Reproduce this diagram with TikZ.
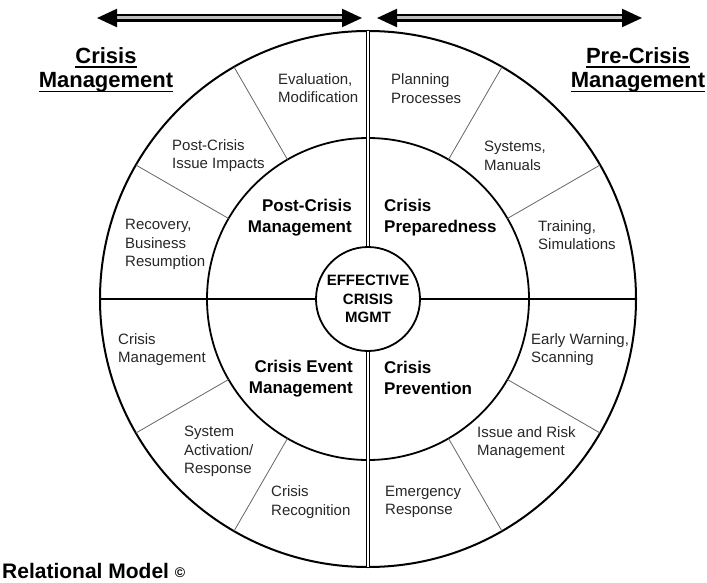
\documentclass[tikz,border=0pt]{standalone}
\usepackage{fontspec}
\setmainfont{Liberation Sans}
\usetikzlibrary{arrows.meta}
\newsavebox\ulbox
\newcommand\ulword[1]{\sbox\ulbox{#1}\rlap{\rule[-4.5pt]{\wd\ulbox}{1.8pt}}\usebox\ulbox}
\tikzset{
  ringtext/.style={anchor=west,align=left,inner sep=0pt,text=black!85,font=\fontsize{15}{18.5}\selectfont},
  phasetext/.style={inner sep=0pt,font=\fontsize{17}{21}\selectfont\bfseries},
  sidetitle/.style={align=center,inner sep=0pt,font=\fontsize{22}{24.5}\selectfont\bfseries},
  divider/.style={draw=black!60,line width=0.8pt},
  timearrow/.style={double=black!25,line width=2.2pt,double distance=3pt,
    {Triangle[length=20pt,width=18pt]}-{Triangle[length=20pt,width=18pt]}}
}
\begin{document}
\begin{tikzpicture}[x=1pt,y=-1pt]
\useasboundingbox (0,0) rectangle (707,583);
\coordinate (c) at (368,299);
\coordinate (top) at (368,31);
\coordinate (bot) at (368,567);
\coordinate (left) at (100,299);
\coordinate (right) at (636,299);
% time arrows
\coordinate (crisisL) at (97,18);
\coordinate (crisisR) at (362,18);
\coordinate (preL) at (377,18);
\coordinate (preR) at (642,18);
\draw[timearrow] (crisisL) -- (crisisR);
\draw[timearrow] (preL) -- (preR);
% rings
\draw[line width=2pt] (c) circle[radius=268];
\draw[line width=1.8pt] (c) circle[radius=161];
\node[circle,draw,line width=1.8pt,minimum size=104pt,inner sep=0pt,align=center,
  font=\fontsize{15}{18.5}\selectfont\bfseries] (core) at (c) {EFFECTIVE\\CRISIS\\MGMT};
\draw[line width=1.8pt] (left) -- (core.west);
\draw[line width=1.8pt] (core.east) -- (right);
\draw[double,line width=1.3pt,double distance=2pt] (top) -- (core.north);
\draw[double,line width=1.3pt,double distance=2pt] (core.south) -- (bot);
\foreach \a in {30,60,120,150,210,240,300,330}
  \draw[divider] ([shift={(\a:161)}]c) -- ([shift={(\a:268)}]c);
% outer ring
\node[ringtext] (plan) at (391,88.5) {Planning\\Processes};
\node[ringtext] (sys) at (484,156) {Systems,\\Manuals};
\node[ringtext] (train) at (538,235) {Training,\\Simulations};
\node[ringtext] (eval) at (278,88) {Evaluation,\\Modification};
\node[ringtext] (impact) at (172,155.5) {Post-Crisis\\Issue Impacts};
\node[ringtext] (recov) at (125,244.5) {Recovery,\\Business\\Resumption};
\node[ringtext] (cmgmt) at (118,349.5) {Crisis\\Management};
\node[ringtext] (activ) at (184,451.5) {System\\Activation/\\Response};
\node[ringtext] (recog) at (271,502) {Crisis\\Recognition};
\node[ringtext] (warn) at (531,349.5) {Early Warning,\\Scanning};
\node[ringtext] (risk) at (477,442.5) {Issue and Risk\\Management};
\node[ringtext] (emerg) at (385,502) {Emergency\\Response};
% phases
\node[phasetext,anchor=east,align=right] (post) at (352,217.5) {Post-Crisis\\Management};
\node[phasetext,anchor=west,align=left] (prep) at (384,217.5) {Crisis\\Preparedness};
\node[phasetext,anchor=east,align=right] (event) at (353,378.5) {Crisis Event\\Management};
\node[phasetext,anchor=west,align=left] (prev) at (384,378) {Crisis\\Prevention};
% titles
\node[sidetitle] (crisis) at (106,70) {\ulword{Crisis}\\\ulword{Management}};
\node[sidetitle] (precrisis) at (638,70) {\ulword{Pre-Crisis}\\\ulword{Management}};
\node[anchor=base west,inner sep=0pt,font=\fontsize{21}{21}\selectfont\bfseries] (model)
  at (2,578) {Relational Model {\fontsize{14}{14}\selectfont\raisebox{1pt}{©}}};
\end{tikzpicture}
\end{document}
